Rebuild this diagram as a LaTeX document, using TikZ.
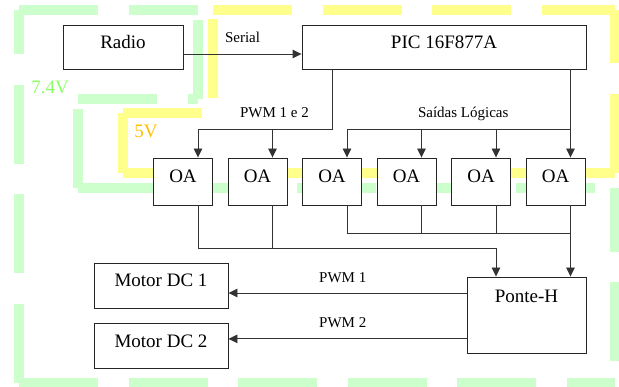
\documentclass[tikz,border=0pt]{standalone}
\usepackage{fontspec}
\setmainfont{Liberation Serif}
\usetikzlibrary{arrows.meta, positioning}
\definecolor{railgreen}{RGB}{204,255,204}
\definecolor{railyellow}{RGB}{255,255,140}
\definecolor{textgreen}{RGB}{140,255,100}
\definecolor{textorange}{RGB}{255,192,0}

\begin{document}
\begin{tikzpicture}[
        x=1pt, y=-1pt,
        block/.style={
            rectangle,
            draw=black!85,
            fill=white,
            line width=0.9pt,
            text height=13pt,
            text depth=10pt,
            font=\fontsize{19}{22}\selectfont
        },
        oa/.style={block, minimum width=59pt, minimum height=47pt},
        motor/.style={block, minimum width=134pt, minimum height=45pt},
        lbl/.style={font=\fontsize{15}{18}\selectfont, anchor=base, inner sep=0pt},
        volt/.style={font=\fontsize{19}{22}\selectfont, anchor=base, inner sep=0pt},
        rail/.style={line width=10pt, dash pattern=on 79pt off 30.5pt},
        greenrail/.style={rail, draw=railgreen},
        yellowrail/.style={rail, draw=railyellow},
        arrow/.style={-{Triangle[length=9pt, width=8.5pt]}, line width=0.9pt, draw=black!80},
        wire/.style={line width=0.9pt, draw=black!80}
    ]
    \useasboundingbox (0,0) rectangle (619,387);

    % 7.4V rail
    \draw [greenrail] (19,10) -- (198,10);
    \draw [greenrail] (198,99) -- (198,10);
    \draw [greenrail] (78,99) -- (198,99);
    \draw [greenrail] (78,188) -- (78,99);
    \draw [greenrail] (78,188) -- (615,188);
    \draw [greenrail, dash phase=88pt] (615,383) -- (615,188);
    \draw [greenrail] (19,383) -- (615,383);
    \draw [greenrail] (19,383) -- (19,10);
    % 5V rail
    \draw [yellowrail] (213,10) -- (615,10);
    \draw [yellowrail] (615,173) -- (615,10);
    \draw [yellowrail] (123,173) -- (615,173);
    \draw [yellowrail] (123,173) -- (123,113);
    \draw [yellowrail] (123,113) -- (213,113);
    \draw [yellowrail, dash phase=94.5pt] (213,113) -- (213,10);

    \node (v74) [volt, text=textgreen] at (50,94) {7.4V};
    \node (v5) [volt, text=textorange] at (146,138) {5V};

    % blocks
    \node (radio) [block, minimum width=120pt, minimum height=44pt] at (123,47) {Radio};
    \node (pic) [block, minimum width=284pt, minimum height=44pt] at (444,47) {PIC 16F877A};

    \node (oa1) [oa] at (183,181.5) {OA};
    \node (oa2) [oa, right=14.6pt of oa1] {OA};
    \node (oa3) [oa, right=14.6pt of oa2] {OA};
    \node (oa4) [oa, right=14.6pt of oa3] {OA};
    \node (oa5) [oa, right=14.6pt of oa4] {OA};
    \node (oa6) [oa, right=14.6pt of oa5] {OA};

    \node (ponte) [block, minimum width=119pt, minimum height=76pt,
        label={[font=\fontsize{19}{22}\selectfont, anchor=base, yshift=-26pt]north:Ponte-H}] at (526.5,315) {};
    \node (motor1) [motor] at (161,285.5) {Motor DC 1};
    \node (motor2) [motor, below=15pt of motor1] {Motor DC 2};

    % pins
    \coordinate (bus) at (0,129);
    \coordinate (busA) at (0,248);
    \coordinate (busB) at (0,233);
    \coordinate (in1) at ([xshift=15pt]oa1.north);
    \coordinate (in2) at ([xshift=15pt]oa2.north);
    \coordinate (in3) at ([xshift=15pt]oa3.north);
    \coordinate (in4) at ([xshift=15pt]oa4.north);
    \coordinate (in5) at ([xshift=15pt]oa5.north);
    \coordinate (in6) at ([xshift=15pt]oa6.north);
    \coordinate (out1) at ([xshift=15pt]oa1.south);
    \coordinate (out2) at ([xshift=15pt]oa2.south);
    \coordinate (out3) at ([xshift=15pt]oa3.south);
    \coordinate (out4) at ([xshift=15pt]oa4.south);
    \coordinate (out5) at ([xshift=15pt]oa5.south);
    \coordinate (out6) at ([xshift=15pt]oa6.south);
    \coordinate (m1in) at ([yshift=-7.5pt]motor1.east);
    \coordinate (m2in) at ([yshift=7.5pt]motor2.east);

    % connections
    \draw [arrow] ([yshift=-7pt]radio.east) -- ([yshift=-7pt]pic.west)
        node[lbl, midway, yshift=11pt] {Serial};

    \draw [wire] (pic.south -| oa3) -- (oa3 |- bus) -- (in1 |- bus)
        node[lbl, pos=0.43, yshift=11pt] {PWM 1 e 2};
    \draw [arrow] (in1 |- bus) -- (in1);
    \draw [arrow] (in2 |- bus) -- (in2);

    \draw [arrow] (pic.south -| in6) -- (in6);
    \draw [wire] (in3 |- bus) -- (in6 |- bus)
        node[lbl, pos=0.52, yshift=11pt] {Saídas Lógicas};
    \draw [arrow] (in3 |- bus) -- (in3);
    \draw [arrow] (in4 |- bus) -- (in4);
    \draw [arrow] (in5 |- bus) -- (in5);

    \draw [arrow] (out1) -- (out1 |- busA) -- (out5 |- busA) -- (out5 |- ponte.north);
    \draw [wire] (out2) -- (out2 |- busA);
    \draw [wire] (out3) -- (out3 |- busB) -- (out6 |- busB);
    \draw [wire] (out4) -- (out4 |- busB);
    \draw [wire] (out5) -- (out5 |- busB);
    \draw [arrow] (out6) -- (out6 |- ponte.north);

    \draw [arrow] (ponte.west |- m1in) -- (m1in)
        node[lbl, pos=0.52, yshift=10pt] {PWM 1};
    \draw [arrow] (ponte.west |- m2in) -- (m2in)
        node[lbl, pos=0.52, yshift=11pt] {PWM 2};

\end{tikzpicture}
\end{document}
